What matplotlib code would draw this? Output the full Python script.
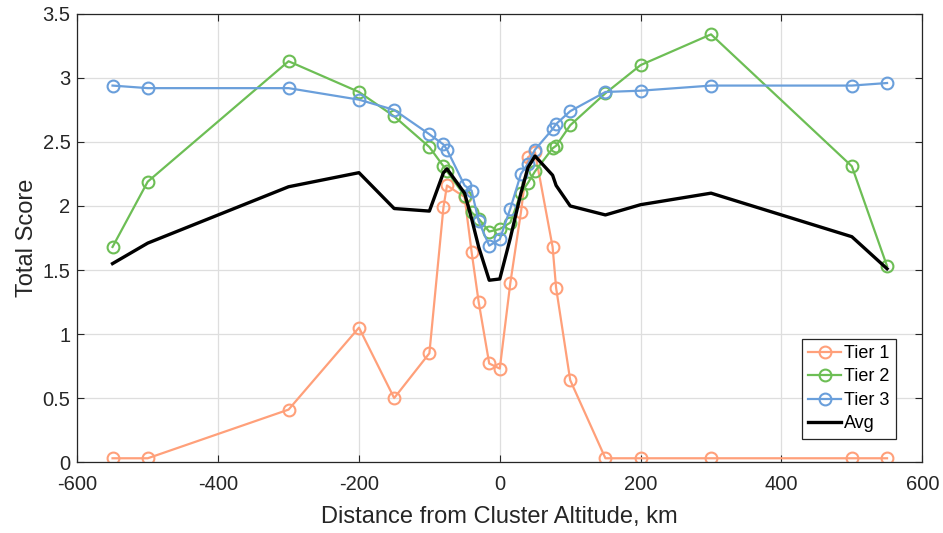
import matplotlib
matplotlib.use('Agg')
import matplotlib.pyplot as plt
import numpy as np

plt.rcParams['font.family'] = ['Liberation Sans', 'DejaVu Sans']
plt.rcParams['axes.unicode_minus'] = False

distance = [-550, -500, -300, -200, -150, -100, -80, -75, -50, -40, -30, -15, 0,
            15, 30, 40, 50, 75, 80, 100, 150, 200, 300, 500, 550]
tier1 = [0.03, 0.03, 0.41, 1.05, 0.50, 0.85, 1.99, 2.16, 2.07, 1.64, 1.25, 0.77, 0.73,
         1.40, 1.95, 2.38, 2.42, 1.68, 1.36, 0.64, 0.03, 0.03, 0.03, 0.03, 0.03]
tier2 = [1.68, 2.19, 3.13, 2.89, 2.70, 2.46, 2.31, 2.27, 2.08, 1.95, 1.90, 1.80, 1.82,
         1.87, 2.10, 2.18, 2.27, 2.45, 2.47, 2.63, 2.88, 3.10, 3.34, 2.31, 1.53]
tier3 = [2.94, 2.92, 2.92, 2.83, 2.75, 2.56, 2.48, 2.44, 2.16, 2.12, 1.88, 1.69, 1.74,
         1.98, 2.25, 2.33, 2.44, 2.60, 2.64, 2.74, 2.89, 2.90, 2.94, 2.94, 2.96]
avg = [1.55, 1.71, 2.15, 2.26, 1.98, 1.96, 2.26, 2.29, 2.10, 1.90, 1.68, 1.42, 1.43,
       1.75, 2.10, 2.30, 2.39, 2.24, 2.16, 2.00, 1.93, 2.01, 2.10, 1.76, 1.51]

fig = plt.figure(figsize=(9.43, 5.33), dpi=100)
ax = fig.add_axes([0.082, 0.133, 0.896, 0.841])

mk = dict(marker='o', markerfacecolor='none', markersize=8.5, markeredgewidth=1.5, linewidth=1.6)
ax.plot(distance, tier1, color='#FFA07A', label='Tier 1', **mk)
ax.plot(distance, tier2, color='#6DBE55', label='Tier 2', **mk)
ax.plot(distance, tier3, color='#6A9FDB', label='Tier 3', **mk)
ax.plot(distance, avg, color='black', linewidth=2.4, label='Avg')

ax.set_xlim(-600, 600)
ax.set_ylim(0, 3.5)
ax.set_xticks(np.arange(-600, 601, 200))
ax.set_yticks(np.arange(0, 3.51, 0.5))
ax.set_yticklabels(['0', '0.5', '1', '1.5', '2', '2.5', '3', '3.5'])
ax.grid(True, color='#DEDEDE', linewidth=0.9)
ax.set_axisbelow(True)
ax.tick_params(direction='in', top=True, right=True, labelsize=14.5, colors='#262626', length=5)
ax.tick_params(axis='x', pad=9)
ax.tick_params(axis='y', pad=5)
for s in ax.spines.values():
    s.set_color('#262626')
    s.set_linewidth(0.9)

ax.set_xlabel('Distance from Cluster Altitude, km', fontsize=17, color='#262626', labelpad=9)
ax.set_ylabel('Total Score', fontsize=17, color='#262626', labelpad=3)

leg = ax.legend(loc='lower right', bbox_to_anchor=(0.969, 0.052), fontsize=13, fancybox=False,
                edgecolor='#262626', framealpha=1, handlelength=1.8, borderpad=0.35,
                labelspacing=0.36, handletextpad=0.2, borderaxespad=0)
leg.get_frame().set_linewidth(0.9)

fig.savefig('out.png', dpi=100)
